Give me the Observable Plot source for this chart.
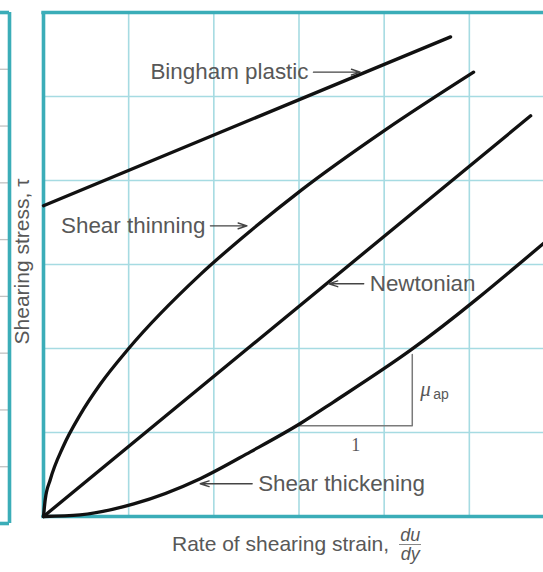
<!DOCTYPE html>
<html>
<head>
<meta charset="utf-8">
<script src="https://cdn.jsdelivr.net/npm/d3@7"></script>
<script src="https://cdn.jsdelivr.net/npm/@observablehq/plot@0.6"></script>
<style>
html,body{margin:0;padding:0;background:#fff;overflow:hidden;width:543px;height:572px}
#wrap{position:relative;width:543px;height:572px;overflow:hidden}
#main{position:absolute;left:0;top:0}
#neighbor{position:absolute;left:0;top:0}
#xlabel{position:absolute;left:172px;top:525px;height:38px;display:flex;align-items:center;
  font-family:"Liberation Sans",Arial,sans-serif;font-size:21px;color:#585858;white-space:nowrap}
.frac{display:inline-flex;flex-direction:column;align-items:center;margin-left:10px;
  font-style:italic;font-size:18px;line-height:16px}
.frac .num{border-bottom:1.5px solid #888;padding:0 1px 1px}
.frac .den{padding-top:1px}
</style>
</head>
<body>
<div id="wrap">
  <div id="main"></div>
  <div id="neighbor"></div>
  <div id="xlabel"><span>Rate of shearing strain,</span><span class="frac"><span class="num">du</span><span class="den">dy</span></span></div>
</div>
<script>
// ---- data (grid units: x = rate of shearing strain, y = shearing stress) ----
const gridX = [1, 2, 3, 4, 5];
const gridY = [1, 2, 3, 4, 5];

const binghamX = [0, 4.78];
const binghamY = [3.70, 5.71];

const thinningX = [0, 0.02, 0.08, 0.23, 0.43, 0.67, 1.0, 1.84, 2.43, 3.02, 4.01, 5.05];
const thinningY = [0, 0.20, 0.44, 0.83, 1.21, 1.58, 2.00, 2.88, 3.40, 3.88, 4.60, 5.29];

const newtonianX = [0, 5.72];
const newtonianY = [0, 4.77];

const thickeningX = [0, 0.43, 1.06, 1.84, 2.43, 3.02, 3.40, 4.31, 5.87];
const thickeningY = [0, 0.02, 0.15, 0.45, 0.77, 1.11, 1.36, 1.98, 3.25];

const labelText = ["Bingham plastic", "Shear thinning", "Newtonian", "Shear thickening"];
const arrowX1 = [3.17, 1.96, 3.76, 2.45];
const arrowX2 = [3.72, 2.39, 3.35, 1.84];
const arrowY  = [5.29, 3.46, 2.77, 0.39];
const labelSide = ["left", "left", "right", "right"];

const slopeX = [3.0, 4.33];
const slopeY = [1.08, 1.93];

const neighborTicks = [1, 2, 3, 4, 5, 6, 7, 8];

// ---- build tables ----
const series = [
  {name: "Bingham plastic", x: binghamX, y: binghamY},
  {name: "Shear thinning", x: thinningX, y: thinningY},
  {name: "Newtonian", x: newtonianX, y: newtonianY},
  {name: "Shear thickening", x: thickeningX, y: thickeningY}
];
const lineData = series.flatMap(s => s.x.map((x, i) => ({name: s.name, x, y: s.y[i]})));
const notes = labelText.map((t, i) => ({text: t, x1: arrowX1[i], x2: arrowX2[i], y: arrowY[i], side: labelSide[i]}));
const tri = [
  {x: slopeX[0], y: slopeY[0]},
  {x: slopeX[1], y: slopeY[0]},
  {x: slopeX[1], y: slopeY[1]}
];

const teal = "#3badb8";
const gridColor = "#a6dbe2";
const textColor = "#585858";
const font = "'Liberation Sans', Arial, sans-serif";

const main = Plot.plot({
  width: 543, height: 526,
  marginLeft: 43, marginRight: 0, marginTop: 12, marginBottom: 10,
  x: {domain: [0, 6], range: [43, 554], axis: null},
  y: {domain: [0, 6], range: [516, 12], axis: null},
  style: {fontFamily: font, background: "white"},
  marks: [
    Plot.ruleX(gridX, {y1: 0, y2: 6, stroke: gridColor, strokeWidth: 1.6}),
    Plot.ruleY(gridY, {x1: 0, x2: 6.3, stroke: gridColor, strokeWidth: 1.6}),
    Plot.ruleX([0], {y1: 0, y2: 6, stroke: teal, strokeWidth: 3.6}),
    Plot.ruleY([0, 6], {x1: -0.02, x2: 6.3, stroke: teal, strokeWidth: 3.6}),
    // slope triangle
    Plot.line(tri, {x: "x", y: "y", stroke: "#7a7a7a", strokeWidth: 1.5}),
    Plot.text([slopeX[0]], {x: () => (slopeX[0] + slopeX[1]) / 2, y: () => slopeY[0], text: () => "1", dy: 19,
      fontSize: 18, fill: textColor, fontFamily: "'Liberation Serif', serif"}),
    Plot.text([slopeX[1]], {x: () => slopeX[1], y: () => (slopeY[0] + slopeY[1]) / 2, text: () => "μ", dx: 8, dy: -1,
      textAnchor: "start", fontSize: 21, fontStyle: "italic", fill: textColor, fontFamily: "'Liberation Serif', serif"}),
    Plot.text([slopeX[1]], {x: () => slopeX[1], y: () => (slopeY[0] + slopeY[1]) / 2, text: () => "ap", dx: 21, dy: 4,
      textAnchor: "start", fontSize: 14, fill: textColor}),
    // curves
    Plot.line(lineData, {x: "x", y: "y", z: "name", curve: "monotone-x", stroke: "#111",
      strokeWidth: 3.3, strokeLinecap: "round"}),
    // arrows + labels
    Plot.arrow(notes, {x1: "x1", x2: "x2", y1: "y", y2: "y", stroke: "#444", strokeWidth: 1.4,
      headLength: 10, headAngle: 36}),
    Plot.text(notes.filter(d => d.side === "left"), {x: "x1", y: "y", text: "text", dx: -5,
      textAnchor: "end", fontSize: 22.4, fill: textColor}),
    Plot.text(notes.filter(d => d.side === "right"), {x: "x1", y: "y", text: "text", dx: 6,
      textAnchor: "start", fontSize: 22.4, fill: textColor}),
    // y label
    Plot.text(["Shearing stress, τ"], {frameAnchor: "left", rotate: -90, dx: -21, dy: -3, textAnchor: "middle",
      fontSize: 21, fill: textColor})
  ]
});
document.getElementById("main").appendChild(main);

// fragment of the neighbouring panel at the left edge
const neighbor = Plot.plot({
  width: 12, height: 530,
  marginLeft: 0, marginRight: 3, marginTop: 12, marginBottom: 7,
  x: {domain: [0, 1], axis: null},
  y: {domain: [0, 9], axis: null},
  style: {background: "transparent"},
  marks: [
    Plot.ruleY(neighborTicks, {stroke: "#c2c2c2", strokeWidth: 1.3}),
    Plot.ruleX([1], {stroke: teal, strokeWidth: 3.6}),
    Plot.ruleY([0, 9], {stroke: teal, strokeWidth: 3.6})
  ]
});
document.getElementById("neighbor").appendChild(neighbor);
</script>
</body>
</html>
